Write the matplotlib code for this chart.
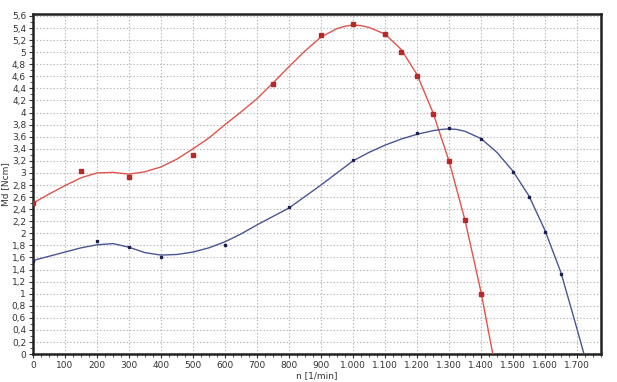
import matplotlib
matplotlib.use("Agg")
import matplotlib.pyplot as plt
from matplotlib.ticker import MultipleLocator, FuncFormatter

# measured points
red_n = [0, 150, 300, 500, 750, 900, 1000, 1100, 1150, 1200, 1250, 1300, 1350, 1400]
red_md = [2.5, 3.04, 2.94, 3.29, 4.48, 5.28, 5.46, 5.3, 5.01, 4.6, 3.98, 3.19, 2.22, 1.0]

blue_n = [0, 200, 300, 400, 600, 800, 1000, 1200, 1300, 1400, 1500, 1550, 1600, 1650]
blue_md = [1.55, 1.88, 1.77, 1.61, 1.81, 2.43, 3.22, 3.66, 3.75, 3.57, 3.01, 2.61, 2.03, 1.33]

# fitted curves
red_curve_n = [0, 50, 100, 150, 200, 250, 300, 350, 400, 450, 500, 550, 600, 650, 700,
               750, 800, 850, 900, 950, 975, 1000, 1025, 1050, 1100, 1150, 1200, 1250,
               1300, 1350, 1400, 1437]
red_curve_md = [2.5, 2.65, 2.79, 2.92, 3.0, 3.01, 2.98, 3.02, 3.1, 3.23, 3.4, 3.58, 3.8,
                4.01, 4.23, 4.49, 4.76, 5.02, 5.25, 5.39, 5.43, 5.45, 5.44, 5.41, 5.3,
                5.05, 4.63, 4.0, 3.2, 2.22, 1.03, 0.0]

blue_curve_n = [0, 50, 100, 150, 200, 250, 300, 350, 400, 450, 500, 550, 600, 650, 700,
                750, 800, 850, 900, 950, 1000, 1050, 1100, 1150, 1200, 1250, 1275, 1300,
                1325, 1350, 1400, 1450, 1500, 1550, 1600, 1650, 1700, 1722]
blue_curve_md = [1.55, 1.62, 1.69, 1.76, 1.81, 1.83, 1.77, 1.68, 1.64, 1.65, 1.69, 1.76,
                 1.86, 1.99, 2.14, 2.28, 2.42, 2.61, 2.8, 3.0, 3.2, 3.34, 3.46, 3.56,
                 3.64, 3.7, 3.72, 3.73, 3.72, 3.69, 3.57, 3.34, 3.03, 2.62, 2.05, 1.35,
                 0.42, 0.0]

fig = plt.figure(figsize=(6.17, 3.82), dpi=100)
ax = fig.add_axes([0.0535, 0.073, 0.9205, 0.89])

ax.plot(red_curve_n, red_curve_md, color="#e0544e", lw=1.0, zorder=3,
        solid_joinstyle="round")
ax.plot(blue_curve_n, blue_curve_md, color="#4a5694", lw=1.0, zorder=3,
        solid_joinstyle="round")
ax.plot(red_n, red_md, ls="none", marker="s", ms=3.2, color="#b82a28", zorder=4)
ax.plot(blue_n, blue_md, ls="none", marker="s", ms=1.8, color="#1c2050", zorder=4)

ax.set_xlim(0, 1775)
ax.set_ylim(0, 5.63)

ax.xaxis.set_major_locator(MultipleLocator(100))
ax.xaxis.set_minor_locator(MultipleLocator(25))
ax.yaxis.set_major_locator(MultipleLocator(0.2))
ax.yaxis.set_minor_locator(MultipleLocator(0.1))


def fmt_x(v, pos):
    return "{:,.0f}".format(v).replace(",", ".")


def fmt_y(v, pos):
    s = "{:.1f}".format(v)
    if s.endswith(".0"):
        s = s[:-2]
    return s.replace(".", ",")


ax.xaxis.set_major_formatter(FuncFormatter(fmt_x))
ax.yaxis.set_major_formatter(FuncFormatter(fmt_y))

ax.tick_params(which="major", length=3, width=0.8, labelsize=6.5, colors="#333333", pad=2)
ax.tick_params(which="minor", length=2, width=0.6, colors="#333333")

ax.grid(True, which="major", color="#b4b4b4", lw=0.8, ls=(0, (1.2, 1.8)))
ax.set_axisbelow(True)

for s in ax.spines.values():
    s.set_linewidth(1.8)
    s.set_color("#222222")

ax.set_xlabel("n [1/min]", fontsize=6.5, color="#333333", labelpad=1)
ax.set_ylabel("Md [Ncm]", fontsize=6.5, color="#333333", labelpad=1)

fig.savefig("out.png", dpi=100)
